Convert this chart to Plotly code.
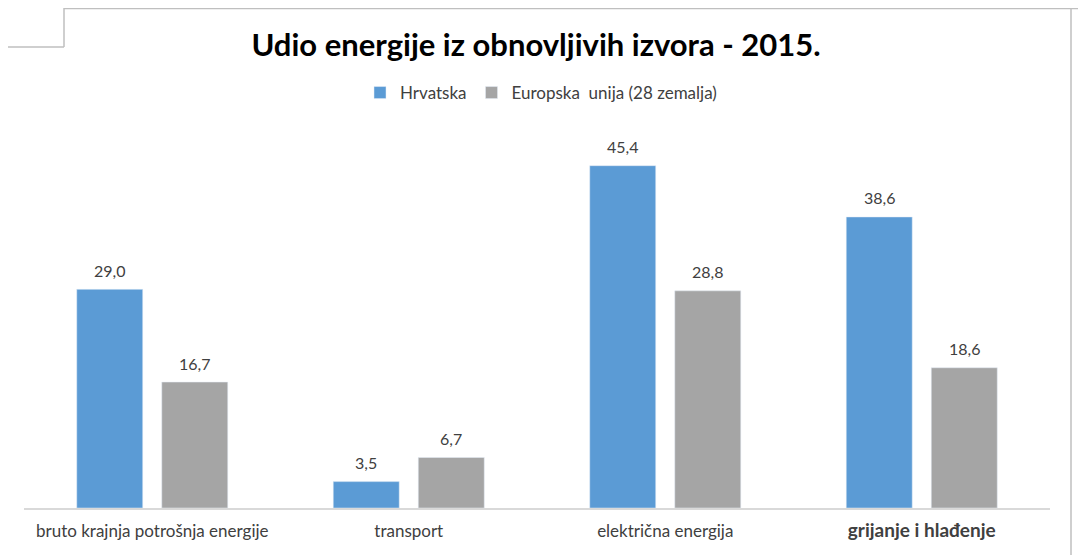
import plotly.graph_objects as go

categories = ["bruto krajnja potrošnja energije", "transport", "električna energija", "grijanje i hlađenje"]
hrvatska = [29.0, 3.5, 45.4, 38.6]
eu28 = [16.7, 6.7, 28.8, 18.6]
series_names = ["Hrvatska", "Europska  unija (28 zemalja)"]

# the page body adds an 8px margin, so the figure is a bit smaller than the window
W, H = 1078, 547
ML, MR, MT, MB = 16, 36, 123, 47


def px_x(p):
    return (p - ML) / (W - ML - MR)


def px_y(p):
    return (H - MB - p) / (H - MT - MB)


fig = go.Figure()
fig.add_trace(go.Bar(x=categories, y=hrvatska, name=series_names[0], marker_color="#5B9BD5"))
fig.add_trace(go.Bar(x=categories, y=eu28, name=series_names[1], marker_color="#A5A5A5"))

# value labels above the bars
for vals, shift in ((hrvatska, -42.5), (eu28, 42.5)):
    for c, v in zip(categories, vals):
        fig.add_annotation(x=c, y=v, text=f"{v:.1f}".replace(".", ","), showarrow=False,
                           xshift=shift, yshift=19, font=dict(size=16, color="#404040"))

# frame of the pasted chart
frame = dict(type="line", xref="paper", yref="paper", line=dict(color="#BFBFBF", width=1.5))
fig.add_shape(frame, x0=px_x(56), x1=px_x(W), y0=px_y(0.5), y1=px_y(0.5))
fig.add_shape(frame, x0=px_x(1063), x1=px_x(1063), y0=px_y(0), y1=px_y(H))
fig.add_shape(frame, x0=px_x(0), x1=px_x(56), y0=px_y(39), y1=px_y(39))
fig.add_shape(frame, x0=px_x(56), x1=px_x(56), y0=px_y(0), y1=px_y(39))

# last label is heavier in the original
ticktext = categories[:-1] + ['<span style="font-size:19px"><b>' + categories[-1] + '</b></span>']

fig.update_layout(
    width=W, height=H,
    margin=dict(l=ML, r=MR, t=MT, b=MB),
    paper_bgcolor="white", plot_bgcolor="white",
    font=dict(family="Lato", color="#404040"),
    title=dict(text="<b>Udio energije iz obnovljivih izvora - 2015.</b>", x=(536 - 8) / W, xanchor="center",
               y=1 - 37 / H, yanchor="middle", yref="container",
               font=dict(size=31, color="#000000")),
    legend=dict(orientation="h", x=px_x(541 - 8), xanchor="center", y=px_y(85), yanchor="middle",
                font=dict(size=17, color="#404040"), itemwidth=30),
    barmode="group", bargap=0.337, bargroupgap=0.224,
    showlegend=True,
)
fig.update_xaxes(showline=True, linecolor="#D9D9D9", linewidth=1.5, ticks="",
                 tickmode="array", tickvals=categories, ticktext=ticktext,
                 tickfont=dict(size=17, color="#404040"), ticklabelstandoff=7)
fig.update_yaxes(range=[0, 50], showgrid=False, zeroline=False, showticklabels=False)

fig.write_html("out.html")
